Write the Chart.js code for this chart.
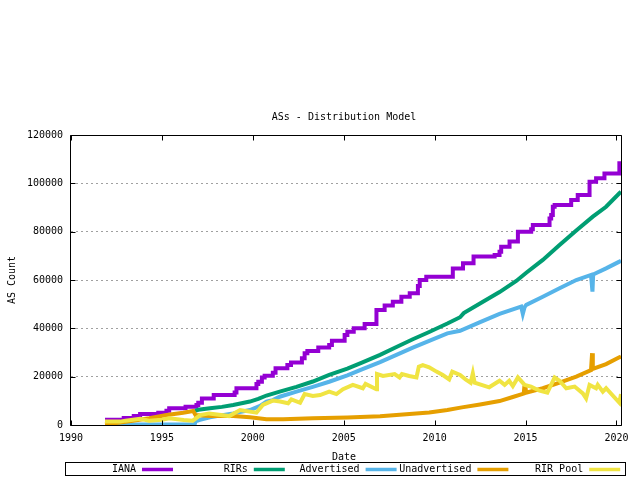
<!DOCTYPE html>
<html><head><meta charset="utf-8">
<script src="https://cdn.jsdelivr.net/npm/chart.js@4.4.1/dist/chart.umd.min.js"></script>
<style>html,body{margin:0;padding:0;background:#fff}canvas{display:block}</style>
</head><body>
<canvas id="c" width="640" height="480"></canvas>
<script>
const chartTitle = "ASs - Distribution Model";
const xTitle = "Date";
const yTitle = "AS Count";
const xTicks = [1990, 1995, 2000, 2005, 2010, 2015, 2020];
const yTicks = [0, 20000, 40000, 60000, 80000, 100000, 120000];
const seriesNames = ["IANA", "RIRs", "Advertised", "Unadvertised", "RIR Pool"];
const seriesColors = ["#9400d3", "#009e73", "#56b4e9", "#e69f00", "#f0e442"];

const ianaYears = [1991.87,1992.9,1993.45,1993.8,1994.8,1995.25,1995.4,1996.3,1996.9,1997.0,1997.2,1997.85,1999.0,1999.1,2000.2,2000.3,2000.5,2000.65,2001.1,2001.25,2001.9,2002.1,2002.7,2002.85,2003.0,2003.6,2004.2,2004.35,2005.05,2005.2,2005.55,2006.15,2006.8,2007.25,2007.7,2008.17,2008.63,2009.08,2009.18,2009.54,2011.0,2011.56,2012.14,2013.3,2013.57,2013.66,2014.12,2014.58,2015.31,2015.4,2016.32,2016.41,2016.5,2016.6,2017.51,2017.87,2018.52,2018.88,2019.34,2020.16,2020.25];
const ianaValues = [2200,2900,3700,4600,5100,5900,6900,7600,8300,9200,11000,12400,13400,15200,17000,17900,19700,20400,21600,23500,24800,25900,27600,29700,30600,32100,33100,34900,37200,38600,40000,41800,47600,49500,51000,53100,54500,57500,60000,61300,64800,66900,69700,70300,71700,73800,75900,80000,81000,82800,85500,86900,90300,91000,93100,95200,100700,102100,104100,108300,108300];

const rirYears = [1996.81,1997.0,1997.64,1998.3,1998.92,1999.84,2000.3,2000.75,2001.48,2002.4,2003.3,2004.2,2005.2,2006.0,2007.0,2007.9,2008.8,2009.7,2010.7,2011.4,2011.6,2012.47,2013.57,2014.49,2015.04,2015.95,2016.87,2017.79,2018.7,2019.43,2020.16,2020.25];
const rirValues = [5800,6300,6900,7500,8300,9700,10800,12200,13800,15800,18000,20700,23300,25800,29000,32300,35500,38500,42000,44600,46300,50200,55000,59600,63000,68300,74500,80500,86200,90300,95900,96500];

const advYears = [1991.87,1996.8,1996.85,1997.09,1997.64,1998.92,1999.84,2000.4,2000.75,2001.1,2001.48,2002.4,2003.3,2004.2,2005.2,2006.0,2007.0,2007.9,2008.8,2009.7,2010.7,2011.4,2012.47,2013.57,2014.76,2014.85,2014.95,2015.04,2015.95,2016.87,2017.79,2018.6,2018.68,2018.72,2019.43,2020.16,2020.25];
const advValues = [200,200,1500,2100,3200,4800,6200,7900,9700,10300,11700,13800,15800,17900,20500,23000,26000,29000,32000,34800,37900,39000,42500,46000,49000,46000,48800,49700,53100,56600,60000,62100,55200,62300,64800,67600,68000];

const unadvYears = [1991.87,1992.7,1993.4,1994.3,1995.26,1996.17,1996.72,1996.85,1997.64,1998.92,1999.84,2000.75,2001.67,2003.3,2005.2,2007.0,2007.9,2008.8,2009.7,2010.7,2011.5,2012.5,2013.57,2014.3,2014.9,2014.93,2015.0,2015.03,2015.95,2016.87,2017.79,2018.6,2018.66,2018.7,2019.43,2020.16,2020.25];
const unadvValues = [300,1000,1800,2800,4100,5100,5800,4100,3700,3700,3200,2400,2400,2800,3100,3600,4100,4700,5200,6200,7300,8500,9900,11600,13000,15500,15500,13400,15200,17500,20000,22700,29700,23200,25200,28000,28300];

const poolYears = [1991.87,1992.7,1993.0,1993.8,1994.3,1995.0,1995.4,1996.2,1996.7,1997.1,1997.6,1998.7,1999.3,2000.2,2000.55,2001.1,2001.5,2001.94,2002.12,2002.6,2002.85,2003.3,2003.7,2004.2,2004.6,2004.96,2005.5,2006.05,2006.2,2006.8,2006.83,2007.16,2007.8,2008.07,2008.2,2008.6,2009.0,2009.13,2009.35,2009.7,2010.1,2010.45,2010.8,2010.97,2011.4,2011.7,2011.98,2012.1,2012.2,2013.0,2013.57,2013.85,2014.1,2014.3,2014.58,2014.95,2015.3,2015.77,2016.2,2016.6,2016.87,2017.24,2017.7,2018.15,2018.33,2018.52,2018.88,2018.97,2019.25,2019.43,2020.16,2020.25];
const poolValues = [1400,1400,1800,2600,1800,2200,2800,2100,1800,4100,4800,3700,6200,5100,8300,10100,9700,9000,10600,9200,12800,12000,12400,13800,12800,14800,16600,15200,17000,14800,21100,20300,21100,19700,21100,20300,19700,24100,24800,23900,22100,20700,18900,22100,20700,18900,17500,21400,17500,15600,18300,16600,18300,16100,19700,16600,15900,14200,13400,19700,18300,15200,15900,13100,11000,16600,15200,16600,13800,15200,9200,12800];

const FONT = "DejaVu Sans Mono";
const pts = (xs, ys) => xs.map((x, i) => ({x, y: ys[i]}));
const seriesData = [
  pts(ianaYears, ianaValues),
  pts(rirYears, rirValues),
  pts(advYears, advValues),
  pts(unadvYears, unadvValues),
  pts(poolYears, poolValues)
];

const datasets = seriesNames.map((name, i) => ({
  label: name,
  data: seriesData[i],
  borderColor: seriesColors[i],
  backgroundColor: seriesColors[i],
  borderWidth: 4,
  pointRadius: 0,
  tension: 0,
  fill: false,
  stepped: i === 0 ? 'before' : false,
  borderJoinStyle: 'miter',
  borderCapStyle: 'butt',
  order: seriesNames.length - i
}));

const decor = {
  id: 'decor',
  afterDatasetsDraw(chart) {
    const {ctx, chartArea: a, scales: {x, y}} = chart;
    ctx.save();
    ctx.strokeStyle = '#000';
    ctx.lineWidth = 1;
    const L = a.left - 0.5, R = Math.round(a.right) + 0.5, T = a.top + 0.5, B = a.bottom + 0.5;
    ctx.beginPath();
    ctx.moveTo(L, T); ctx.lineTo(R, T); ctx.lineTo(R, B); ctx.lineTo(L, B); ctx.closePath();
    xTicks.forEach(v => {
      const px = Math.round(x.getPixelForValue(v)) + 0.5;
      ctx.moveTo(px, B); ctx.lineTo(px, B - 5);
      ctx.moveTo(px, T); ctx.lineTo(px, T + 5);
    });
    yTicks.forEach(v => {
      const py = Math.round(y.getPixelForValue(v)) + 0.5;
      ctx.moveTo(L, py); ctx.lineTo(L + 5, py);
      ctx.moveTo(R, py); ctx.lineTo(R - 5, py);
    });
    ctx.stroke();
    ctx.restore();
  },
  afterDraw(chart) {
    const {ctx, chartArea: a} = chart;
    ctx.save();
    ctx.fillStyle = '#000';
    ctx.font = '10px "' + FONT + '"';
    ctx.textBaseline = 'middle';
    ctx.textAlign = 'center';
    const cx = (a.left + a.right) / 2 - 2;
    ctx.fillText(chartTitle, cx, 117);
    ctx.fillText(xTitle, cx, 457);
    ctx.save();
    ctx.translate(12, (a.top + a.bottom) / 2);
    ctx.rotate(-Math.PI / 2);
    ctx.fillText(yTitle, 0, 0);
    ctx.restore();
    // legend box
    ctx.strokeStyle = '#000';
    ctx.lineWidth = 1;
    ctx.strokeRect(65.5, 462.5, 560, 13);
    ctx.textAlign = 'right';
    const step = 111.8;
    seriesNames.forEach((name, i) => {
      const te = 136 + step * i;
      ctx.fillStyle = '#000';
      ctx.fillText(name, te, 469.5);
      ctx.strokeStyle = seriesColors[i];
      ctx.lineWidth = 3.5;
      ctx.beginPath();
      ctx.moveTo(te + 6, 469.5);
      ctx.lineTo(te + 37, 469.5);
      ctx.stroke();
    });
    ctx.restore();
  }
};

new Chart(document.getElementById('c'), {
  type: 'line',
  data: {datasets},
  options: {
    responsive: false,
    animation: false,
    devicePixelRatio: 1,
    layout: {padding: {top: 135, right: 19, left: 0, bottom: 0}},
    plugins: {legend: {display: false}, title: {display: false}, tooltip: {enabled: false}},
    scales: {
      x: {
        type: 'linear',
        min: 1990,
        max: 2020.25,
        afterFit: s => { s.height = 55; },
        afterBuildTicks: s => { s.ticks = xTicks.map(v => ({value: v})); },
        grid: {display: false, drawTicks: false},
        border: {display: false},
        ticks: {
          padding: 7,
          color: '#000',
          font: {family: FONT, size: 10},
          maxRotation: 0,
          autoSkip: false,
          callback: v => String(v)
        }
      },
      y: {
        type: 'linear',
        min: 0,
        max: 120000,
        afterFit: s => { s.width = 71; },
        afterBuildTicks: s => { s.ticks = yTicks.map(v => ({value: v})); },
        grid: {color: '#a0a0a0', lineWidth: 1, drawTicks: false},
        border: {display: false, dash: [2, 3]},
        ticks: {
          padding: 8,
          color: '#000',
          font: {family: FONT, size: 10},
          autoSkip: false,
          callback: v => String(v)
        }
      }
    }
  },
  plugins: [decor]
});
</script>
</body></html>
